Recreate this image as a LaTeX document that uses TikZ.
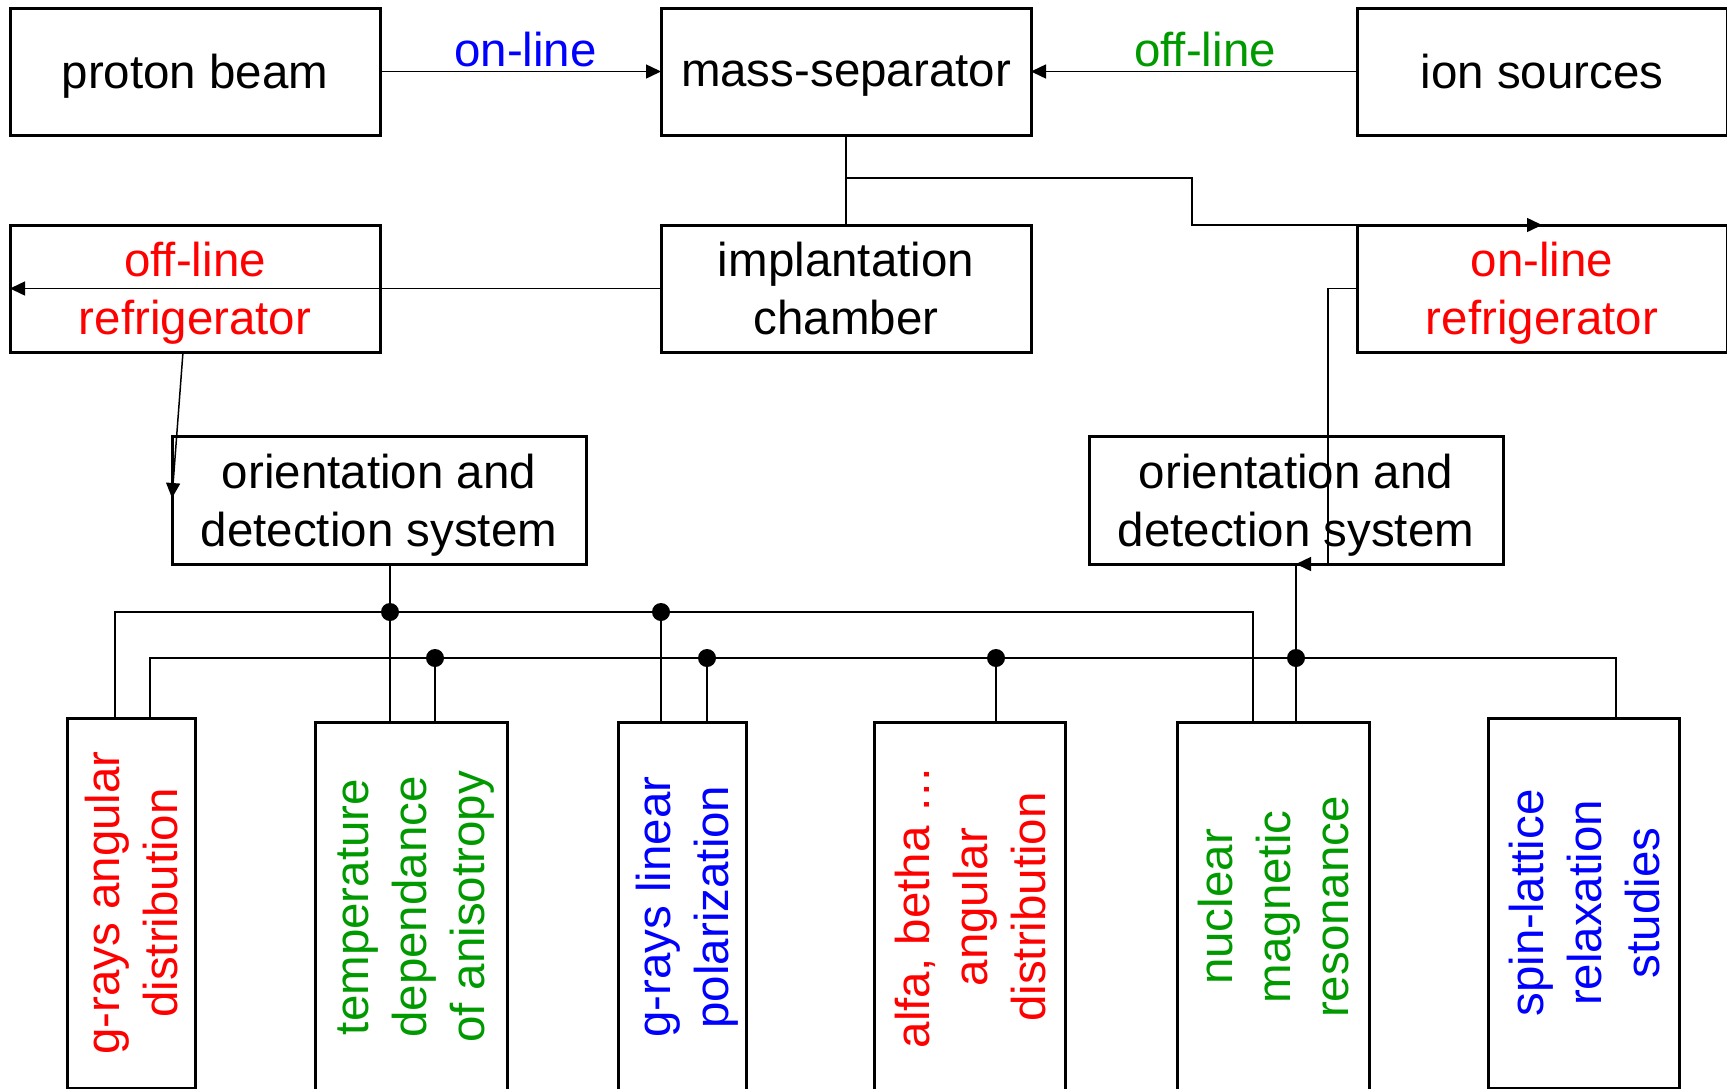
\documentclass[tikz,border=0pt]{standalone}
\usepackage{fontspec}
\setmainfont{Liberation Sans}
\usetikzlibrary{positioning,arrows.meta}
\definecolor{olgreen}{RGB}{0,153,0}

\begin{document}
\begin{tikzpicture}[x=1pt, y=-1pt, line width=1.5pt,
 >={Triangle[length=15pt,width=14pt]},
 font=\fontsize{47.5}{58}\selectfont,
 block/.style={draw, line width=3pt, inner sep=0pt, outer sep=0pt, align=center,
  text depth=0pt, minimum width=370pt, minimum height=127pt},
 odsys/.style={block, minimum width=414pt, minimum height=128pt},
 study/.style={block, rotate=90, minimum width=370pt},
 lbl/.style={above, inner sep=4pt}]
 \useasboundingbox (0,0) rectangle (1727,1088);
 \clip (0,0) rectangle (1727,1088);

 \node[block] (pbeam) at (195,71.5) {proton beam};
 \node[block, right=281pt of pbeam] (msep) {mass-separator};
 \node[block, right=326pt of msep] (ionsrc) {ion sources};
 \node[block, below=90pt of pbeam, text=red] (offref) {off-line\\refrigerator};
 \node[block, below=90pt of msep] (implch) {implantation\\chamber};
 \node[block, below=90pt of ionsrc, text=red] (onref) {on-line\\refrigerator};
 \node[odsys] (lods) at (379,500) {orientation and\\detection system};
 \node[odsys] (rods) at (1296,500) {orientation and\\detection system};

 \node[study, minimum height=128pt, text=red] (gang) at (131,903) {g-rays angular\\distribution};
 \node[study, minimum height=192pt, text=olgreen] (tdep) at (411,907) {temperature\\dependance\\of anisotropy};
 \node[study, minimum height=128pt, text=blue] (glin) at (682,907) {g-rays linear\\polarization};
 \node[study, minimum height=191pt, text=red] (abang) at (970,907) {alfa, betha \dots\\angular\\distribution};
 \node[study, minimum height=192pt, text=olgreen] (nmr) at (1273,907) {nuclear\\magnetic\\resonance};
 \node[study, minimum height=191pt, text=blue] (slrs) at (1584,903) {spin-lattice\\relaxation\\studies};

 \draw[->] (pbeam) -- node[lbl, xshift=5pt, text=blue] {on-line} (msep);
 \draw[->] (ionsrc) -- node[lbl, xshift=11pt, text=olgreen] {off-line} (msep);
 \draw (msep) -- (implch);
 \coordinate (split) at (845.5,178);
 \coordinate (jog) at (1192,178);
 \draw[->] (split) -- (jog) |- (onref.north);
 \draw[->] (implch.west) -- (offref.west);
 \draw[->] ([xshift=-12pt]offref.south) -- ([yshift=2pt]lods.west);
 \draw[->] (onref.west) -- ([xshift=-29pt]onref.west) |- (rods.south);

 \coordinate (ldrop) at ([xshift=11pt]lods.south);
 \coordinate (ubus) at (115,612);
 \coordinate (uend) at (1253,612);
 \coordinate (lbus) at (150,658);
 \coordinate (lend) at (1616,658);
 \draw (ubus |- gang.east) -- (ubus) -- (uend) -- (uend |- nmr.east);
 \draw (lbus |- gang.east) -- (lbus) -- (lend) -- (lend |- slrs.east);
 \draw (ldrop) -- (ldrop |- tdep.east);
 \draw (rods.south) -- (rods.south |- nmr.east);
 \fill (ldrop |- ubus) circle (9pt);
 \fill (rods.south |- lbus) circle (9pt);
 \coordinate (utap) at (661,612);
 \draw (utap) -- (utap |- glin.east);
 \fill (utap) circle (9pt);
 \foreach \x/\st [count=\i] in {435/tdep, 707/glin, 996/abang} {
  \coordinate (tap\i) at (\x,658);
  \draw (tap\i) -- (tap\i |- \st.east);
  \fill (tap\i) circle (9pt);
 }
\end{tikzpicture}
\end{document}
